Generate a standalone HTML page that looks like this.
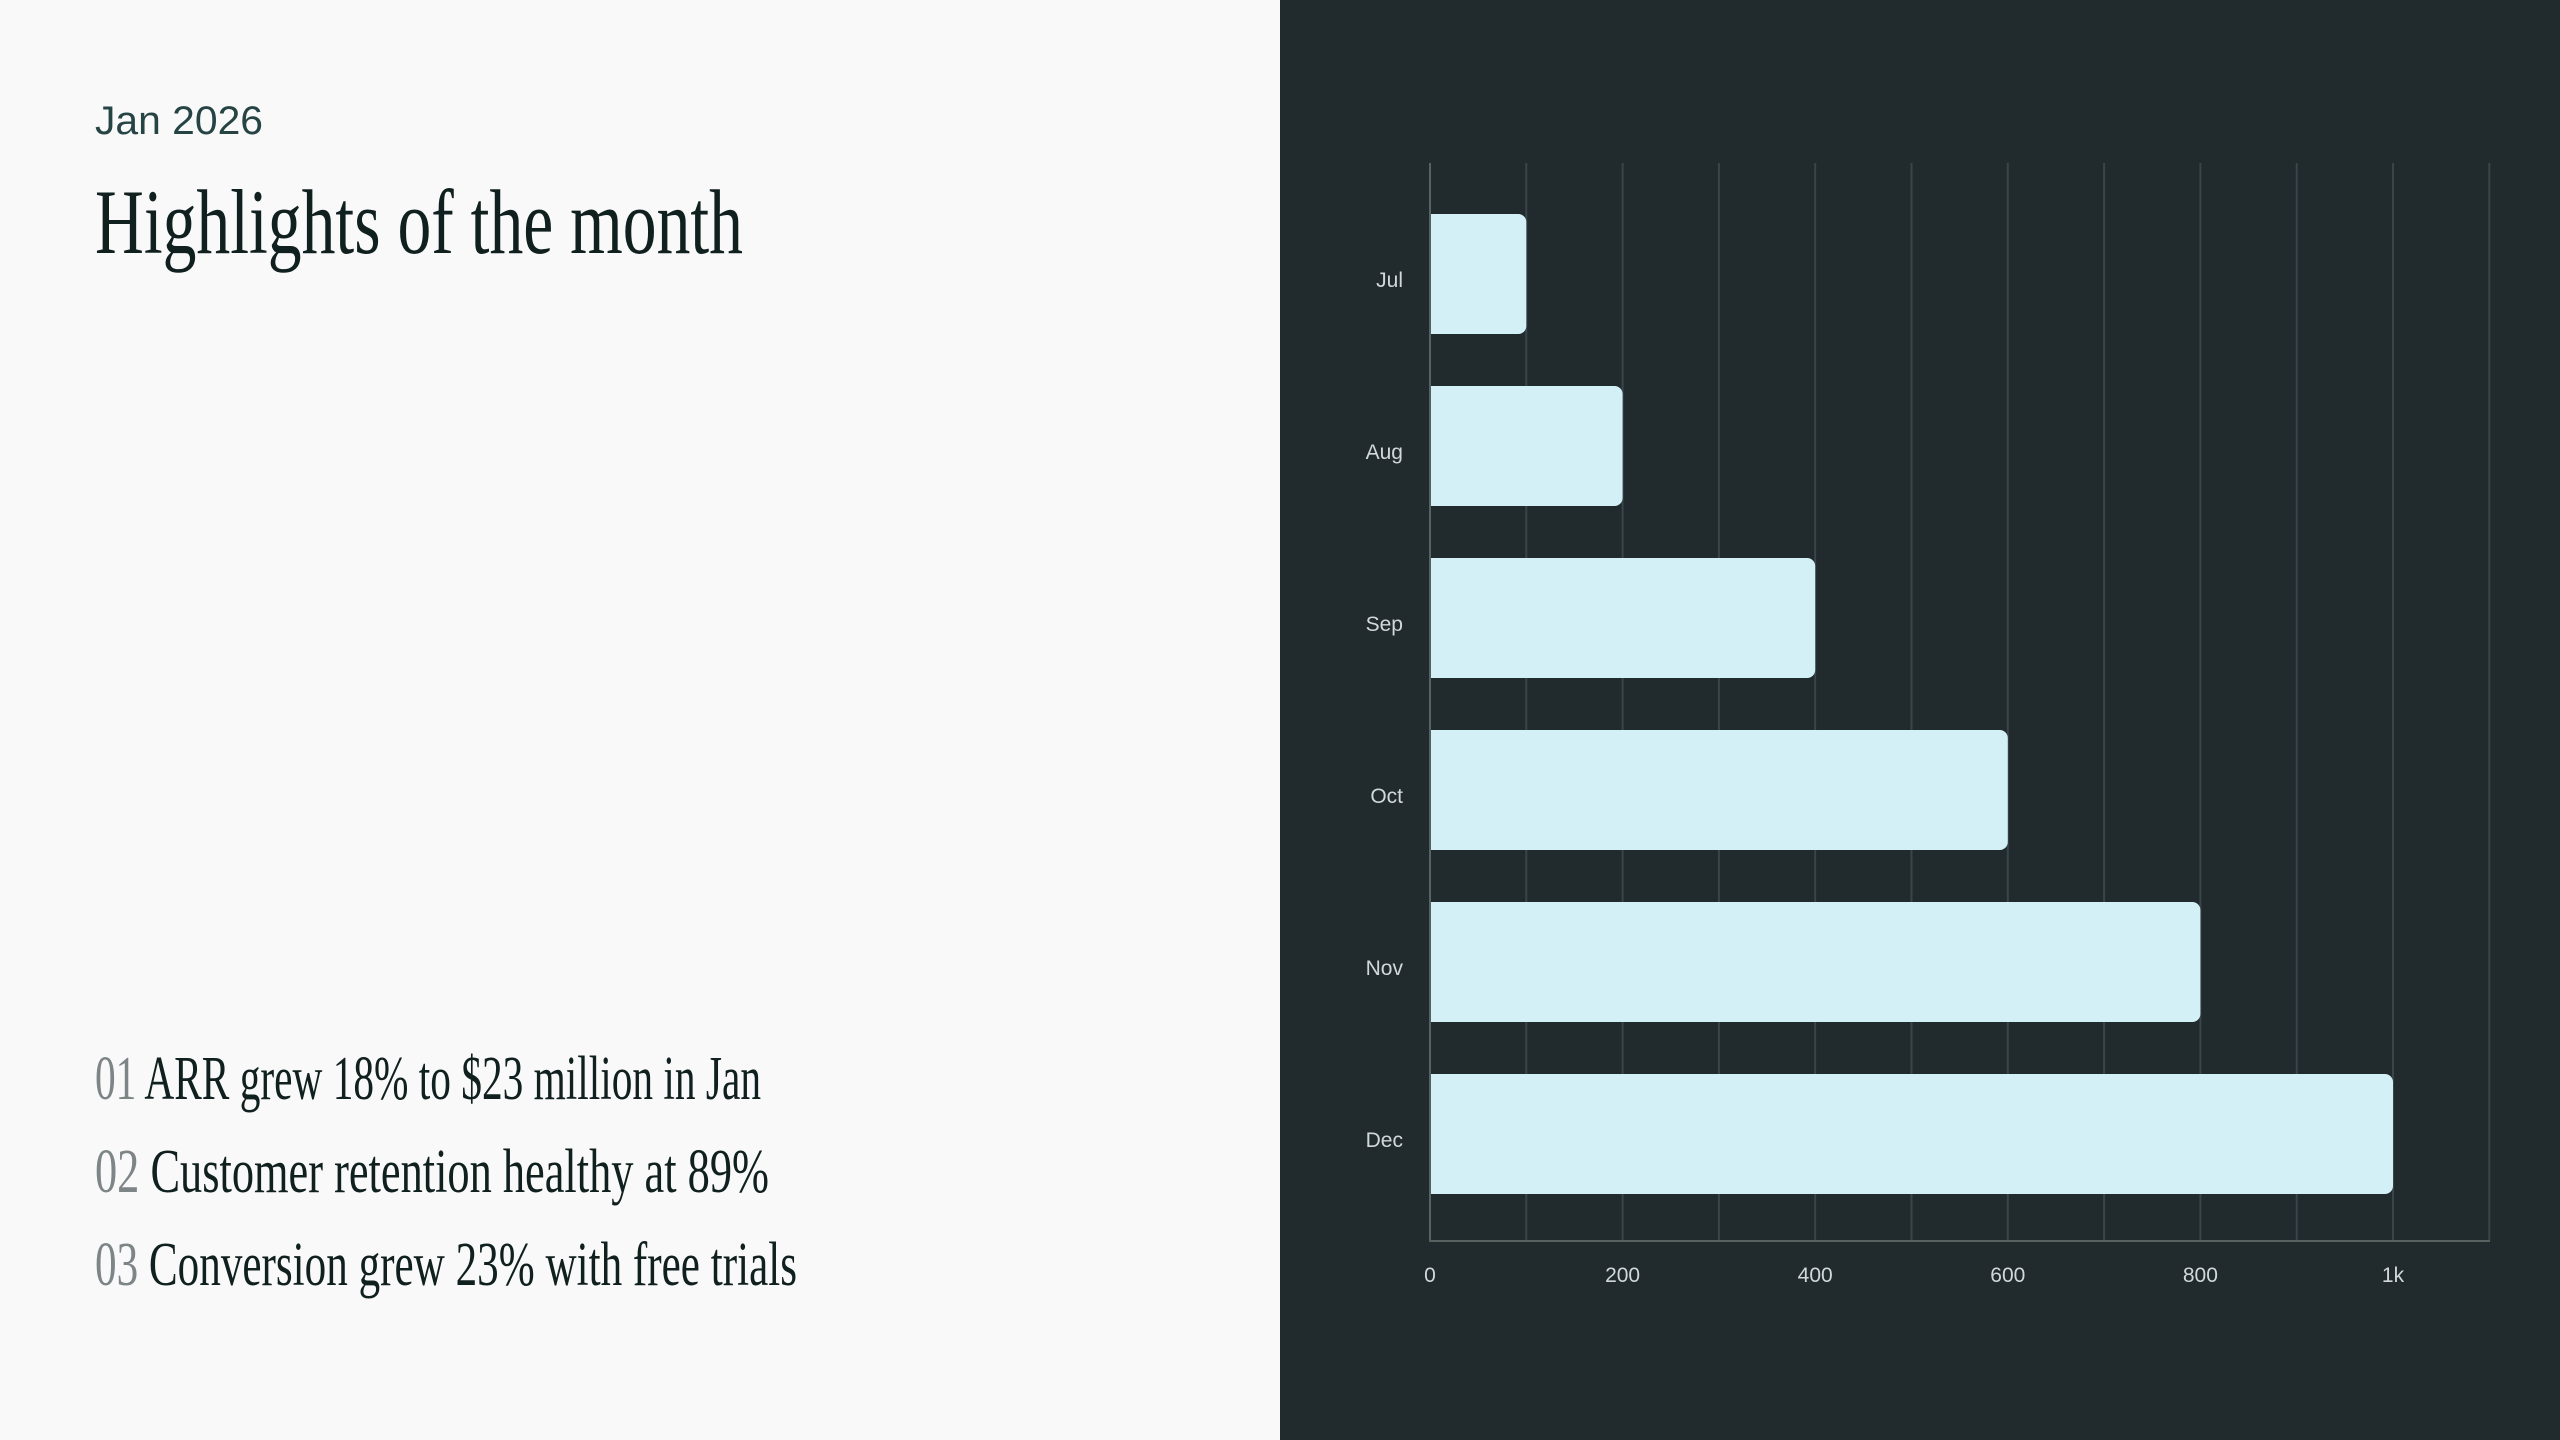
<!DOCTYPE html>
<html><head><meta charset="utf-8"><style>html,body{margin:0;padding:0;background:#f9f9f9}svg{display:block}</style></head>
<body>
<svg width="2560" height="1440" viewBox="0 0 2560 1440" xmlns="http://www.w3.org/2000/svg">
<rect x="0" y="0" width="1280" height="1440" fill="#f9f9f9"/>
<rect x="1280" y="0" width="1280" height="1440" fill="#212a2d"/>
<text x="95" y="134" font-family="Liberation Sans, sans-serif" font-size="40" fill="#254443" textLength="168" lengthAdjust="spacingAndGlyphs">Jan 2026</text>
<text x="95" y="253" font-family="Liberation Serif, serif" font-size="92" fill="#10201f" textLength="648" lengthAdjust="spacingAndGlyphs">Highlights of the month</text>
<g font-family="Liberation Serif, serif" font-size="62">
<text x="95" y="1099" fill="#10201f" textLength="666" lengthAdjust="spacingAndGlyphs"><tspan fill="#7d8587">01</tspan> ARR grew 18% to $23 million in Jan</text>
<text x="95" y="1192" fill="#10201f" textLength="674" lengthAdjust="spacingAndGlyphs"><tspan fill="#7d8587">02</tspan> Customer retention healthy at 89%</text>
<text x="95" y="1285" fill="#10201f" textLength="702" lengthAdjust="spacingAndGlyphs"><tspan fill="#7d8587">03</tspan> Conversion grew 23% with free trials</text>
</g>
<g stroke="#38454a" stroke-width="2">
<line x1="1526.3" y1="163" x2="1526.3" y2="1241"/>
<line x1="1622.6" y1="163" x2="1622.6" y2="1241"/>
<line x1="1718.9" y1="163" x2="1718.9" y2="1241"/>
<line x1="1815.2" y1="163" x2="1815.2" y2="1241"/>
<line x1="1911.5" y1="163" x2="1911.5" y2="1241"/>
<line x1="2007.8" y1="163" x2="2007.8" y2="1241"/>
<line x1="2104.1" y1="163" x2="2104.1" y2="1241"/>
<line x1="2200.4" y1="163" x2="2200.4" y2="1241"/>
<line x1="2296.7" y1="163" x2="2296.7" y2="1241"/>
<line x1="2393" y1="163" x2="2393" y2="1241"/>
<line x1="2489.3" y1="163" x2="2489.3" y2="1241"/>
</g>
<g fill="#d2f0f5">
<path d="M1430 214 H1518.3 a8 8 0 0 1 8 8 V326 a8 8 0 0 1 -8 8 H1430 Z"/>
<path d="M1430 386 H1614.6 a8 8 0 0 1 8 8 V498 a8 8 0 0 1 -8 8 H1430 Z"/>
<path d="M1430 558 H1807.2 a8 8 0 0 1 8 8 V670 a8 8 0 0 1 -8 8 H1430 Z"/>
<path d="M1430 730 H1999.8 a8 8 0 0 1 8 8 V842 a8 8 0 0 1 -8 8 H1430 Z"/>
<path d="M1430 902 H2192.4 a8 8 0 0 1 8 8 V1014 a8 8 0 0 1 -8 8 H1430 Z"/>
<path d="M1430 1074 H2385 a8 8 0 0 1 8 8 V1186 a8 8 0 0 1 -8 8 H1430 Z"/>
</g>
<g stroke="#56625f" stroke-width="2">
<line x1="1430" y1="163" x2="1430" y2="1242"/>
<line x1="1429" y1="1241" x2="2490" y2="1241"/>
</g>
<g font-family="Liberation Sans, sans-serif" font-size="21" fill="#d0d8da" text-anchor="end">
<text x="1403" y="287">Jul</text>
<text x="1403" y="459">Aug</text>
<text x="1403" y="631">Sep</text>
<text x="1403" y="803">Oct</text>
<text x="1403" y="975">Nov</text>
<text x="1403" y="1147">Dec</text>
</g>
<g font-family="Liberation Sans, sans-serif" font-size="21" fill="#d0d8da" text-anchor="middle">
<text x="1430" y="1282">0</text>
<text x="1622.6" y="1282">200</text>
<text x="1815.2" y="1282">400</text>
<text x="2007.8" y="1282">600</text>
<text x="2200.4" y="1282">800</text>
<text x="2393" y="1282">1k</text>
</g>
</svg>
</body></html>
